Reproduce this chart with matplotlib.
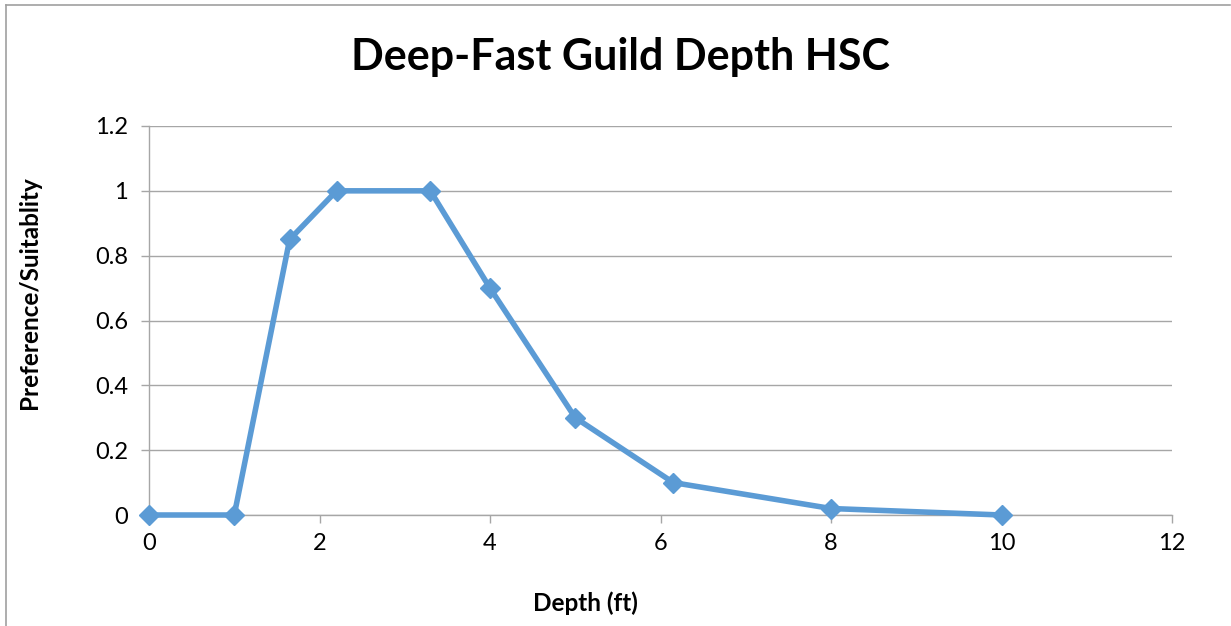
import numpy as np
import matplotlib.pyplot as plt
from matplotlib.lines import Line2D

plt.rcParams['font.family'] = ['Lato', 'DejaVu Sans']

# depth (ft) vs preference/suitability
depth = [0, 1.0, 1.65, 2.2, 3.3, 4.0, 5.0, 6.15, 8.0, 10.0]
suitability = [0, 0, 0.85, 1.0, 1.0, 0.7, 0.3, 0.1, 0.02, 0]

xticks = [0, 2, 4, 6, 8, 10, 12]
yticks = [0, 0.2, 0.4, 0.6, 0.8, 1, 1.2]
ytick_labels = ['0', '0.2', '0.4', '0.6', '0.8', '1', '1.2']

W, H = 1231, 626
fig = plt.figure(figsize=(W / 100, H / 100), dpi=100)
ax = fig.add_axes([149 / W, 1 - 515 / H, (1172 - 149) / W, (515 - 126) / H])

grid_c = '#a6a6a6'
ax.plot(depth, suitability, color='#5b9bd5', lw=4.0, marker='D', ms=10.5,
        solid_joinstyle='round', clip_on=False, zorder=3)

ax.set_xlim(0, 12)
ax.set_ylim(0, 1.2)
ax.set_xticks(xticks)
ax.set_yticks(yticks)
ax.set_yticklabels(ytick_labels)
ax.grid(axis='y', color=grid_c, lw=1.0)
ax.set_axisbelow(True)
for s in ['top', 'right']:
    ax.spines[s].set_visible(False)
for s in ['left', 'bottom']:
    ax.spines[s].set_color(grid_c)
    ax.spines[s].set_linewidth(1.0)
ax.tick_params(axis='both', colors=grid_c, length=6, width=1.0,
               labelcolor='black', labelsize=17)
ax.tick_params(axis='x', pad=7)
ax.tick_params(axis='y', pad=9)

fig.text(620 / W, 1 - 57 / H, 'Deep-Fast Guild Depth HSC', ha='center', va='center',
         fontsize=31, fontweight='bold')
fig.text(585 / W, 1 - 603 / H, 'Depth (ft)', ha='center', va='center',
         fontsize=17.5, fontweight='bold')
fig.text(30 / W, 1 - 293 / H, 'Preference/Suitablity', ha='center', va='center',
         rotation=90, fontsize=17.5, fontweight='bold')

# outer chart frame (top and left edges visible)
fig.add_artist(Line2D([6 / W, 6 / W], [0, 1 - 5 / H], color='#a0a0a0', lw=1.2))
fig.add_artist(Line2D([6 / W, 1230 / W], [1 - 5 / H, 1 - 5 / H], color='#a0a0a0', lw=1.2))

fig.savefig('out.png', dpi=100, facecolor='white')
